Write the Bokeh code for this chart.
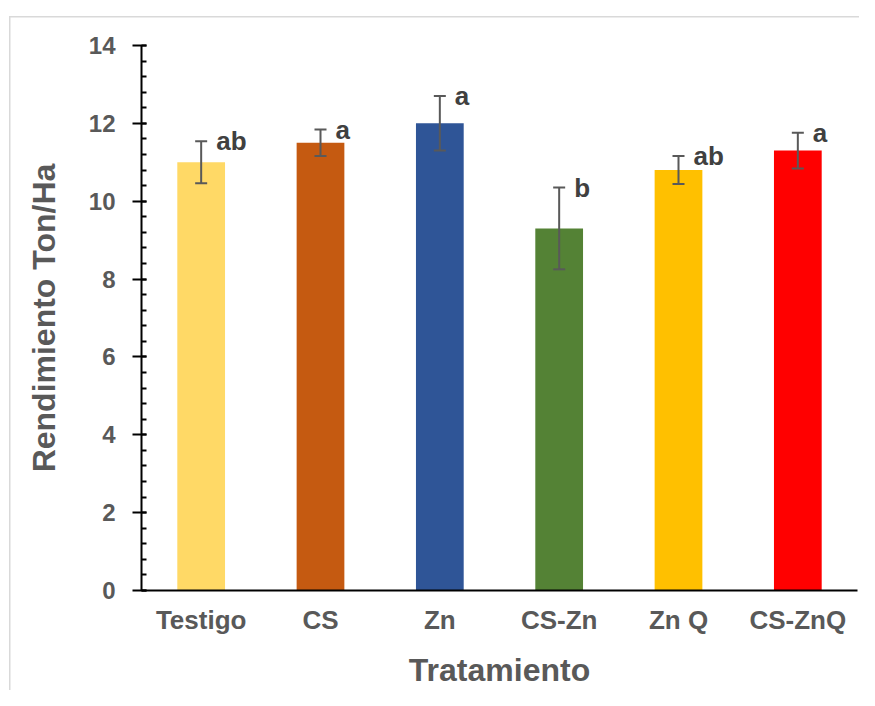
from bokeh.plotting import figure
from bokeh.models import (ColumnDataSource, FactorRange, Range1d, SingleIntervalTicker,
                          Whisker, TeeHead)
from bokeh.core.properties import value
from bokeh.embed import file_html
from bokeh.resources import INLINE

# ---- data ----
categories = ["Testigo", "CS", "Zn", "CS-Zn", "Zn Q", "CS-ZnQ"]
rendimiento = [11.0, 11.5, 12.0, 9.3, 10.8, 11.3]
error = [0.54, 0.34, 0.70, 1.05, 0.36, 0.46]
letters = ["ab", "a", "a", "b", "ab", "a"]
colors = ["#FFD966", "#C55A11", "#2F5597", "#548235", "#FFC000", "#FF0000"]

FONT = "Liberation Sans"
GRAY = "#595959"

src = ColumnDataSource(dict(
    cat=categories,
    val=rendimiento,
    upper=[v + e for v, e in zip(rendimiento, error)],
    lower=[v - e for v, e in zip(rendimiento, error)],
    lab=letters,
    color=colors,
))

border_bg = ("linear-gradient(#D9D9D9,#D9D9D9) 9px 16px / 1.5px 100% no-repeat, "
             "linear-gradient(#D9D9D9,#D9D9D9) 9px 16px / 100% 1.5px no-repeat, white")

p = figure(x_range=FactorRange(*categories, range_padding=0), y_range=Range1d(0, 14),
           width=859, height=690, output_backend="svg", toolbar_location=None,
           min_border_left=141, min_border_right=2, min_border_top=45, min_border_bottom=100,
           styles={"background": border_bg})
p.outline_line_color = None
p.xgrid.visible = False
p.ygrid.visible = False
p.background_fill_color = "white"
p.border_fill_color = None

p.vbar(x="cat", top="val", width=0.4, fill_color="color", line_color=None, source=src)

p.add_layout(Whisker(source=src, base="cat", upper="upper", lower="lower", level="overlay",
                     line_color=GRAY, line_width=2,
                     upper_head=TeeHead(size=12, line_color=GRAY, line_width=2),
                     lower_head=TeeHead(size=12, line_color=GRAY, line_width=2)))

p.text(x="cat", y="upper", text="lab", source=src, x_offset=15, y_offset=0,
       text_font=value(FONT), text_font_style="bold", text_font_size="26px",
       text_color="#404040", text_align="left", text_baseline="alphabetic")

# y axis
ya = p.yaxis[0]
ya.ticker = SingleIntervalTicker(interval=2, num_minor_ticks=5)
ya.axis_line_color = "black"
ya.axis_line_width = 2
ya.major_tick_line_color = "black"
ya.major_tick_line_width = 2
ya.major_tick_out = 9
ya.major_tick_in = 5
ya.minor_tick_line_color = "black"
ya.minor_tick_line_width = 2
ya.minor_tick_in = 5
ya.minor_tick_out = 0
ya.major_label_standoff = 17
ya.major_label_text_font = FONT
ya.major_label_text_font_style = "bold"
ya.major_label_text_font_size = "24px"
ya.major_label_text_color = GRAY
ya.axis_label = "Rendimiento Ton/Ha"
ya.axis_label_text_font = FONT
ya.axis_label_text_font_style = "bold"
ya.axis_label_text_font_size = "32px"
ya.axis_label_text_color = GRAY
ya.axis_label_standoff = 24

# x axis
xa = p.xaxis[0]
xa.axis_line_color = "black"
xa.axis_line_width = 2
xa.major_tick_line_color = None
xa.minor_tick_line_color = None
xa.major_tick_out = 0
xa.major_tick_in = 0
xa.major_label_standoff = 14
xa.major_label_text_font = FONT
xa.major_label_text_font_style = "bold"
xa.major_label_text_font_size = "26px"
xa.major_label_text_color = GRAY
xa.axis_label = "Tratamiento"
xa.axis_label_text_font = FONT
xa.axis_label_text_font_style = "bold"
xa.axis_label_text_font_size = "32px"
xa.axis_label_text_color = GRAY
xa.axis_label_standoff = 14

open("out.html", "w").write(file_html(p, INLINE))
